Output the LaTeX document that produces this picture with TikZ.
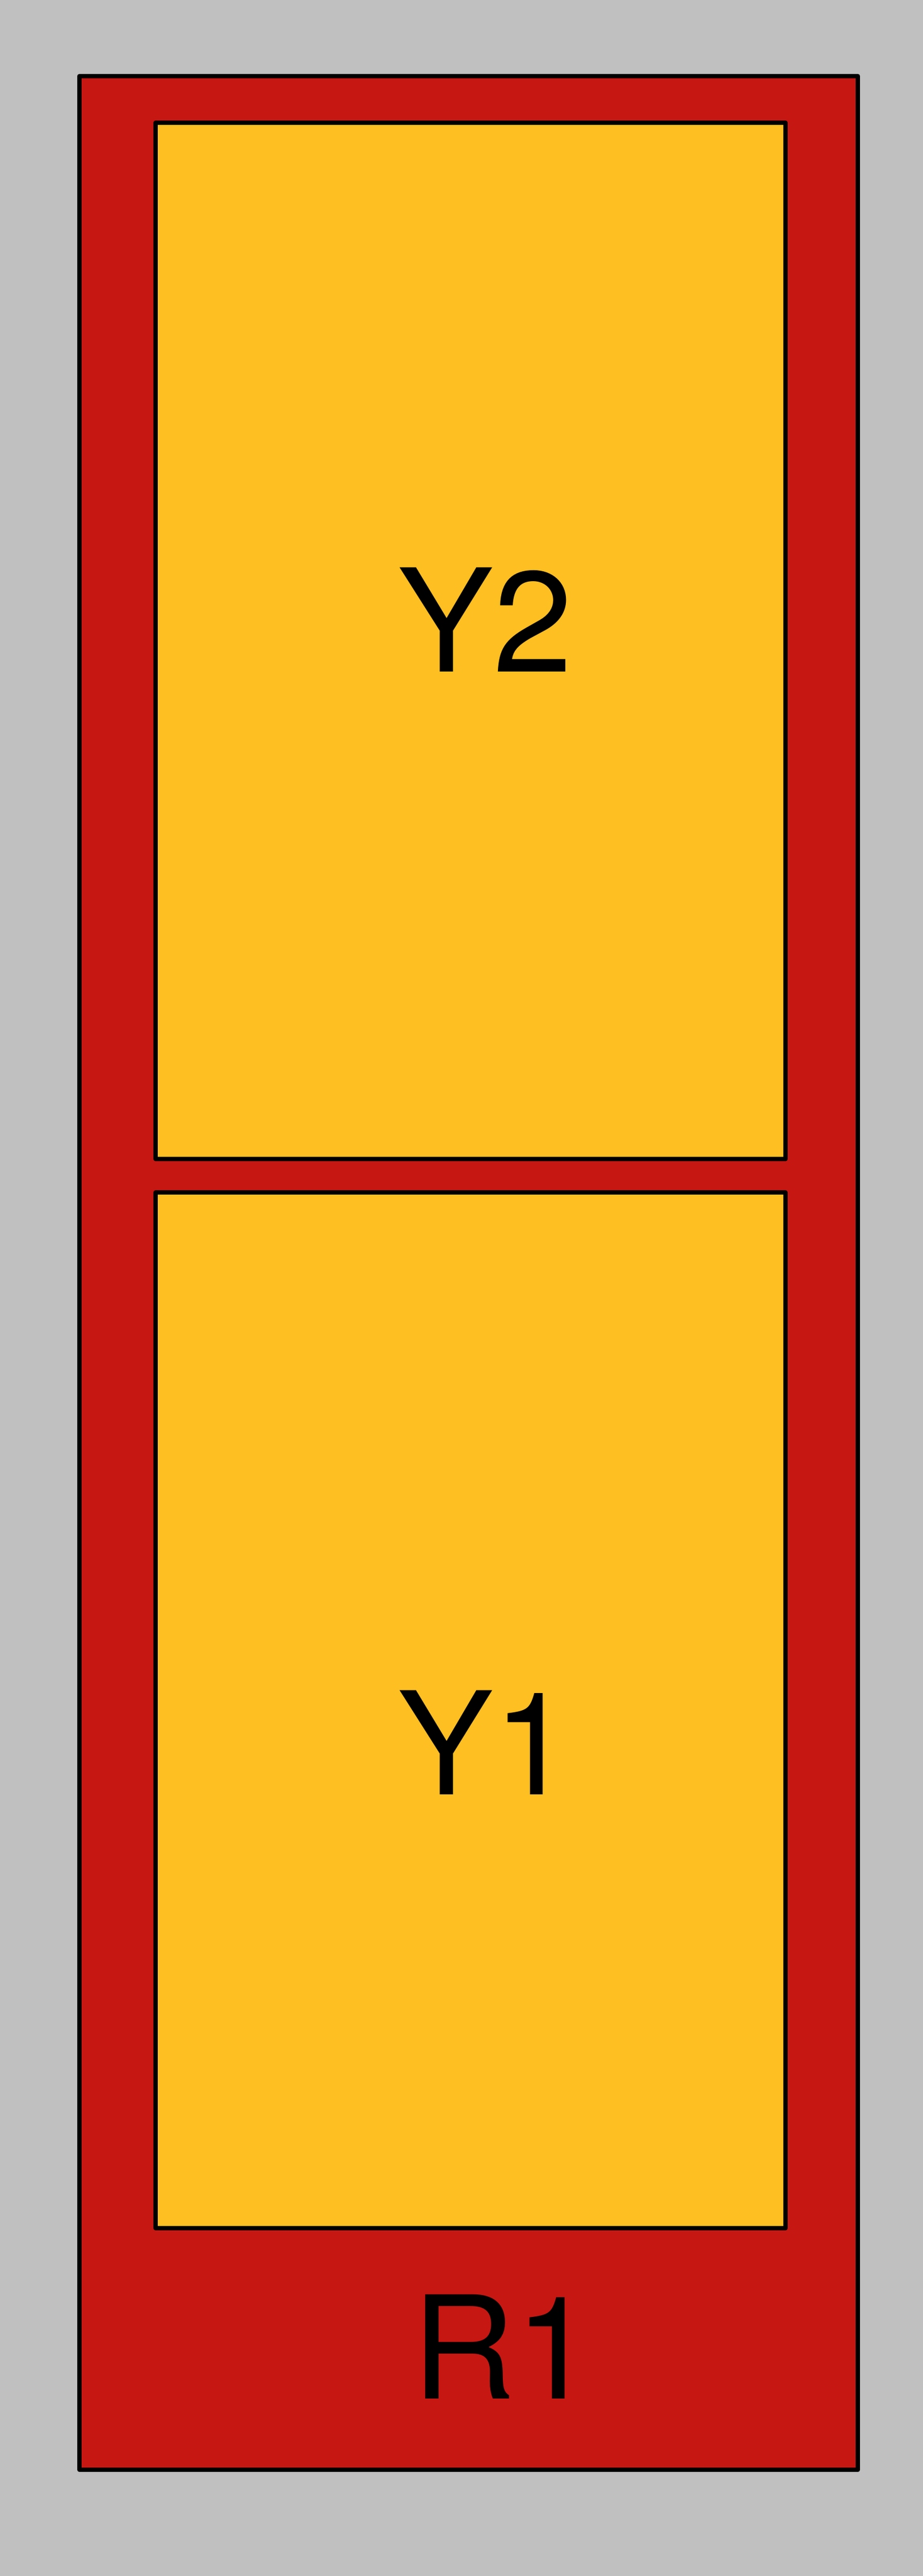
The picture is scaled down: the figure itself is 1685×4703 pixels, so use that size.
\documentclass[tikz,border=0pt]{standalone}
\usepackage{fontspec}
\setmainfont{TeX Gyre Heros}
\usepackage{xcolor}
\usepackage{tikz}
\definecolor{bggray}{RGB}{192,192,192}
\definecolor{rackred}{RGB}{198,23,18}
\definecolor{bayyellow}{RGB}{253,191,34}

\begin{document}
\begin{tikzpicture}[x=1pt,y=-1pt,
    edge/.style={draw=black,line width=8pt,line join=round},
    lbl/.style={anchor=base west,inner sep=0pt,font=\fontsize{261}{300}\selectfont}]
% Background
\fill[bggray] (0,0) rectangle (1685,4703);
\useasboundingbox (0,0) rectangle (1685,4703);

% Rack
\path[edge,fill=rackred] (145,139) rectangle (1566,4509);

% Bays
\foreach \top/\bot in {224/2116, 2177/4068} {
    \path[edge,fill=bayyellow] (284,\top) rectangle (1434,\bot);
}

% Labels
\node[lbl] (y2) at (726,1226) {Y2};
\node[lbl] (y1) at (726,3276) {Y1};
\node[lbl] (r1) at (752,4379) {R1};
\end{tikzpicture}
\end{document}
